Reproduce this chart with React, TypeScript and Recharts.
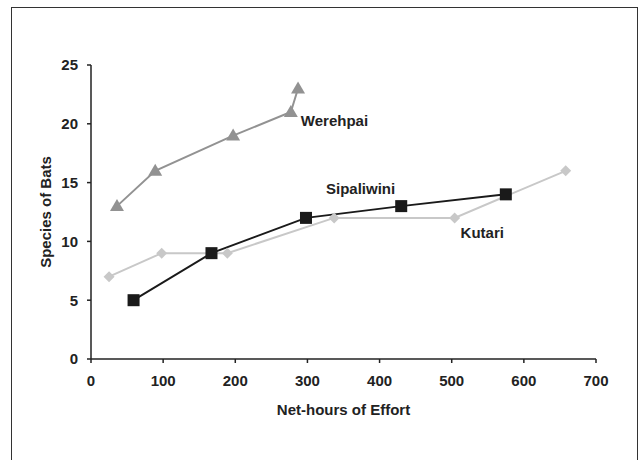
import React from 'react';
import { LineChart, Line, XAxis, YAxis, LabelList } from 'recharts';

const werehpaiHours = [36, 89, 197, 277, 287];
const werehpaiSpecies = [13, 16, 19, 21, 23];

const sipaliwiniHours = [59, 167, 298, 430, 575];
const sipaliwiniSpecies = [5, 9, 12, 13, 14];

const kutariHours = [25, 98, 189, 337, 504, 658];
const kutariSpecies = [7, 9, 9, 12, 12, 16];

const xTicks = [0, 100, 200, 300, 400, 500, 600, 700];
const yTicks = [0, 5, 10, 15, 20, 25];

const toPoints = (hours: number[], species: number[]) =>
  hours.map((h, i) => ({ hours: h, species: species[i] }));

const werehpai = toPoints(werehpaiHours, werehpaiSpecies);
const sipaliwini = toPoints(sipaliwiniHours, sipaliwiniSpecies);
const kutari = toPoints(kutariHours, kutariSpecies);

const FONT = '"Liberation Sans", Arial, sans-serif';

const Triangle = (props: any) => {
  const { cx, cy, fill } = props;
  if (cx == null || cy == null) return null;
  return <path d={`M${cx},${cy - 7} L${cx + 7},${cy + 5} L${cx - 7},${cy + 5} Z`} fill={fill} />;
};

const Square = (props: any) => {
  const { cx, cy, fill } = props;
  if (cx == null || cy == null) return null;
  return <rect x={cx - 6} y={cy - 6} width={12} height={12} fill={fill} />;
};

const Diamond = (props: any) => {
  const { cx, cy, fill } = props;
  if (cx == null || cy == null) return null;
  return <path d={`M${cx},${cy - 5.5} L${cx + 5.5},${cy} L${cx},${cy + 5.5} L${cx - 5.5},${cy} Z`} fill={fill} />;
};

// draws the series name next to one chosen point
const seriesLabel = (name: string, at: number, dx: number, dy: number) => (props: any) => {
  const { x, y, index } = props;
  if (index !== at) return null;
  return (
    <text
      x={x + dx}
      y={y + dy}
      fill="#222"
      fontFamily={FONT}
      fontWeight="bold"
      fontSize={15}
      dominantBaseline="middle"
    >
      {name}
    </text>
  );
};

const tickStyle = { fill: '#222', fontFamily: FONT, fontWeight: 'bold' as const, fontSize: 15 };

export default function App() {
  return (
    <div style={{ position: 'absolute', left: 0, top: 0, width: 639, height: 460, background: '#fff', overflow: 'hidden' }}>
      <div
        style={{
          position: 'absolute',
          left: 11,
          top: 7,
          width: 625,
          height: 470,
          borderLeft: '1.5px solid #333',
          borderTop: '1.5px solid #333',
          borderRight: '1.5px solid #333',
        }}
      />
      <div style={{ position: 'absolute', left: 0, top: 0 }}>
        <LineChart width={639} height={460} margin={{ top: 65, right: 43, bottom: 71, left: 31 }}>
          <XAxis
            type="number"
            dataKey="hours"
            domain={[0, 700]}
            ticks={xTicks}
            allowDuplicatedCategory={false}
            stroke="#222"
            strokeWidth={1.5}
            tickSize={4}
            tickMargin={12}
            tick={tickStyle}
            height={30}
            label={{
              value: 'Net-hours of Effort',
              position: 'insideBottom',
              offset: -26,
              style: { fill: '#222', fontFamily: FONT, fontWeight: 'bold', fontSize: 15 },
            }}
          />
          <YAxis
            type="number"
            dataKey="species"
            domain={[0, 25]}
            ticks={yTicks}
            stroke="#222"
            strokeWidth={1.5}
            tickSize={4}
            tickMargin={9}
            tick={tickStyle}
            width={60}
            label={{
              value: 'Species of Bats',
              angle: -90,
              position: 'insideLeft',
              offset: 15,
              style: { fill: '#222', fontFamily: FONT, fontWeight: 'bold', fontSize: 15, textAnchor: 'middle' },
            }}
          />
          <Line
            data={kutari}
            dataKey="species"
            stroke="#c8c8c8"
            strokeWidth={2}
            dot={<Diamond fill="#c8c8c8" />}
            isAnimationActive={false}
          >
            <LabelList dataKey="species" content={seriesLabel('Kutari', 4, 6, 16)} />
          </Line>
          <Line
            data={werehpai}
            dataKey="species"
            stroke="#929292"
            strokeWidth={2}
            dot={<Triangle fill="#929292" />}
            isAnimationActive={false}
          >
            <LabelList dataKey="species" content={seriesLabel('Werehpai', 3, 10, 10)} />
          </Line>
          <Line
            data={sipaliwini}
            dataKey="species"
            stroke="#1a1a1a"
            strokeWidth={2}
            dot={<Square fill="#1a1a1a" />}
            isAnimationActive={false}
          >
            <LabelList dataKey="species" content={seriesLabel('Sipaliwini', 2, 20, -28)} />
          </Line>
        </LineChart>
      </div>
    </div>
  );
}
